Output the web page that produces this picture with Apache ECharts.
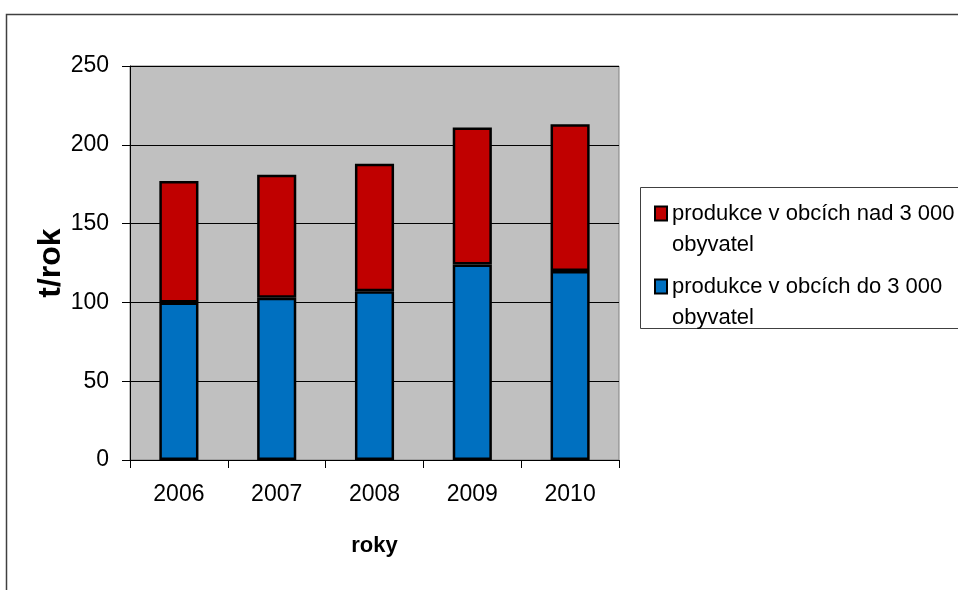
<!DOCTYPE html>
<html>
<head>
<meta charset="utf-8">
<script src="https://cdn.jsdelivr.net/npm/echarts@6/dist/echarts.min.js"></script>
<style>
html,body{margin:0;padding:0;background:#fff;}
#main{width:958px;height:590px;}
</style>
</head>
<body>
<div id="main"></div>
<script>
const categories = ['2006', '2007', '2008', '2009', '2010'];
const doTriTisice = [100, 103, 107, 124, 120];
const nadTriTisice = [77, 78, 81, 87, 93];
const yTicks = { min: 0, max: 250, interval: 50 };
const nameDo = 'produkce v obcích do 3 000\nobyvatel';
const nameNad = 'produkce v obcích nad 3 000\nobyvatel';

const FONT = '"Liberation Sans", Arial, sans-serif';
const chart = echarts.init(document.getElementById('main'));

const legendText = { fontFamily: FONT, fontSize: 22, color: '#000', lineHeight: 31 };
const legendFmt = function (n) { return '\n' + n; };

chart.setOption({
  animation: false,
  backgroundColor: '#fff',
  graphic: [
    { type: 'rect', shape: { x: 6.5, y: 14.5, width: 1000, height: 1000 },
      style: { fill: 'none', stroke: '#404040', lineWidth: 1.5 }, z: -1 },
    { type: 'rect', shape: { x: 640.5, y: 187.5, width: 400, height: 141 },
      style: { fill: '#fff', stroke: '#404040', lineWidth: 1 }, z: 0 }
  ],
  grid: {
    left: 130, top: 66, right: 339, bottom: 130,
    show: true, backgroundColor: '#C0C0C0', borderColor: '#808080', borderWidth: 1
  },
  legend: [
    { data: [nameNad], left: 654, top: 167, orient: 'vertical', padding: 0, formatter: legendFmt,
      itemWidth: 12, itemHeight: 14, icon: 'rect', textStyle: legendText, selectedMode: false, z: 5 },
    { data: [nameDo], left: 654, top: 240, orient: 'vertical', padding: 0, formatter: legendFmt,
      itemWidth: 12, itemHeight: 14, icon: 'rect', textStyle: legendText, selectedMode: false, z: 5 }
  ],
  xAxis: {
    type: 'category', data: categories,
    name: 'roky', nameLocation: 'middle', nameGap: 75, nameMoveOverlap: false,
    nameTextStyle: { fontFamily: FONT, fontSize: 22, fontWeight: 'bold', color: '#000' },
    axisLine: { show: true, lineStyle: { color: '#000', width: 1 } },
    axisTick: { show: true, length: 8, alignWithLabel: false, lineStyle: { color: '#000' } },
    axisLabel: { fontFamily: FONT, fontSize: 23, color: '#000', margin: 23 },
    splitLine: { show: false }
  },
  yAxis: {
    type: 'value', min: yTicks.min, max: yTicks.max, interval: yTicks.interval,
    name: 't/rok', nameLocation: 'middle', nameGap: 63, nameRotate: 90, nameMoveOverlap: false,
    nameTextStyle: { fontFamily: FONT, fontSize: 32, fontWeight: 'bold', color: '#000' },
    axisLine: { show: true, lineStyle: { color: '#000', width: 1 } },
    axisTick: { show: true, length: 8, inside: false, lineStyle: { color: '#000' } },
    axisLabel: { fontFamily: FONT, fontSize: 23, color: '#000', margin: 21 },
    splitLine: { show: true, lineStyle: { color: '#000', width: 1 } }
  },
  series: [
    { name: nameDo, type: 'bar', stack: 'total', data: doTriTisice, barWidth: '40%',
      itemStyle: { color: '#0070C0', borderColor: '#000', borderWidth: 2.5 } },
    { name: nameNad, type: 'bar', stack: 'total', data: nadTriTisice, barWidth: '40%',
      itemStyle: { color: '#C00000', borderColor: '#000', borderWidth: 2.5 } }
  ]
});
</script>
</body>
</html>
